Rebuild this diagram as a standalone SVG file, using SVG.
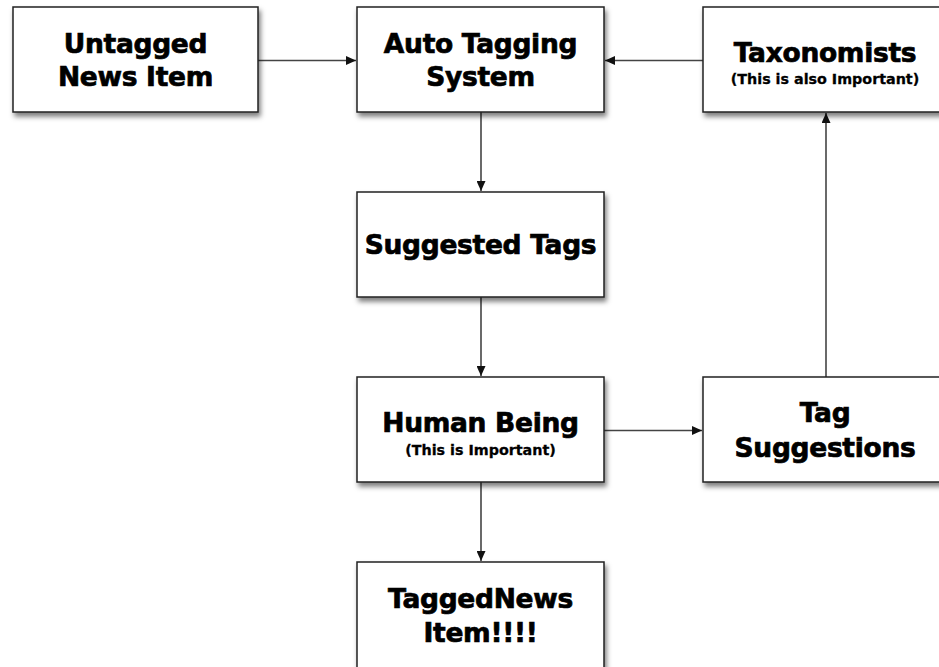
<svg xmlns="http://www.w3.org/2000/svg" width="939" height="667" viewBox="0 0 939 667">
<defs>
<filter id="sh" x="-10%" y="-10%" width="130%" height="140%">
<feDropShadow dx="2" dy="4" stdDeviation="2.5" flood-color="#000" flood-opacity="0.5"/>
</filter>
<marker id="ah" markerWidth="10" markerHeight="9" refX="10" refY="4.5" orient="auto" markerUnits="userSpaceOnUse">
<path d="M0,0 L10,4.5 L0,9 Z" fill="#111"/>
</marker>
<style>
.box{fill:#fff;stroke:#222;stroke-width:1.5;filter:url(#sh)}
.t{font-family:"DejaVu Sans","Liberation Sans",sans-serif;font-weight:bold;font-size:26.5px;fill:#000;stroke:#000;stroke-width:0.7;text-anchor:middle;letter-spacing:-0.3px}
.s{font-family:"DejaVu Sans","Liberation Sans",sans-serif;font-weight:bold;font-size:14.3px;fill:#000;stroke:#000;stroke-width:0.3;text-anchor:middle}
.c{stroke:#444;stroke-width:1.6;fill:none;marker-end:url(#ah)}
</style>
</defs>
<rect width="939" height="667" fill="#fff"/>
<g id="connectors">
<line class="c" x1="258" y1="60.5" x2="356" y2="60.5"/>
<line class="c" x1="703" y1="60.5" x2="605" y2="60.5"/>
<line class="c" x1="481" y1="112" x2="481" y2="191"/>
<line class="c" x1="481" y1="297" x2="481" y2="376"/>
<line class="c" x1="604" y1="430.5" x2="702" y2="430.5"/>
<line class="c" x1="826" y1="377" x2="826" y2="113"/>
<line class="c" x1="481" y1="482" x2="481" y2="561"/>
</g>
<g id="untagged">
<rect class="box" x="13" y="7" width="245" height="105"/>
<text class="t" x="135.5" y="53">Untagged</text>
<text class="t" x="135.5" y="86">News Item</text>
</g>
<g id="auto">
<rect class="box" x="357" y="7" width="247" height="105"/>
<text class="t" x="480.5" y="53">Auto Tagging</text>
<text class="t" x="480.5" y="86">System</text>
</g>
<g id="taxonomists">
<rect class="box" x="703" y="7" width="247" height="105"/>
<text class="t" x="825" y="62">Taxonomists</text>
<text class="s" x="825" y="84">(This is also Important)</text>
</g>
<g id="suggested">
<rect class="box" x="357" y="192" width="247" height="105"/>
<text class="t" x="480.5" y="254">Suggested Tags</text>
</g>
<g id="human">
<rect class="box" x="357" y="377" width="247" height="105"/>
<text class="t" x="480.5" y="432">Human Being</text>
<text class="s" x="480.5" y="455">(This is Important)</text>
</g>
<g id="tagsugg">
<rect class="box" x="703" y="377" width="247" height="105"/>
<text class="t" x="825" y="422">Tag</text>
<text class="t" x="825" y="457">Suggestions</text>
</g>
<g id="tagged">
<rect class="box" x="357" y="562" width="247" height="110"/>
<text class="t" x="480.5" y="608">TaggedNews</text>
<text class="t" x="480.5" y="642">Item!!!!</text>
</g>
</svg>
